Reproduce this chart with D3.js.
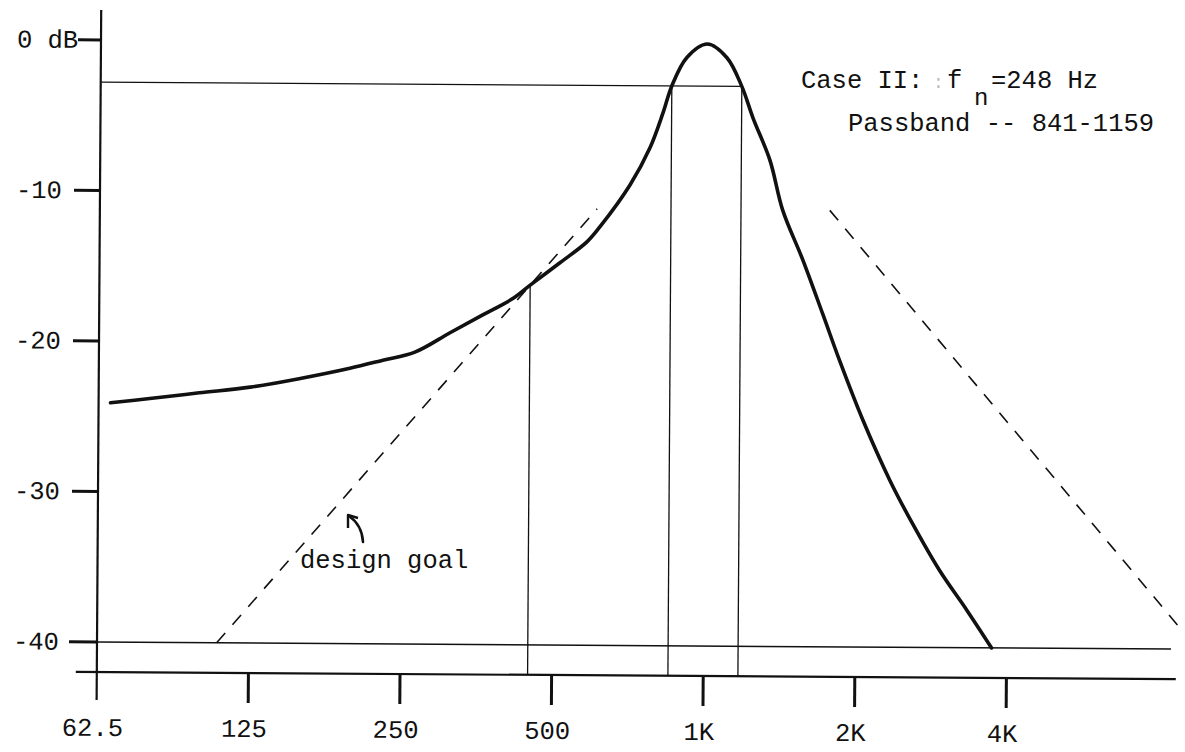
<!DOCTYPE html>
<html>
<head>
<meta charset="utf-8">
<script src="https://cdn.jsdelivr.net/npm/d3@7"></script>
<style>
    body { margin: 0; background: #fff; }
    svg text { font-family: 'Liberation Mono', monospace; font-size: 25.5px; fill: #111; }
</style>
</head>
<body>
<div id="chart"></div>
<script>
// axis ticks
const freqTicks = [62.5, 125, 250, 500, 1000, 2000, 4000];
const freqLabels = ['62.5', '125', '250', '500', '1K', '2K', '4K'];
const dbTicks = [0, -10, -20, -30, -40];
const dbLabels = ['0 dB', '-10', '-20', '-30', '-40'];

// measured response (Hz, dB)
const responseFreq = [66, 79, 99, 125, 157, 197, 229, 265, 311, 361, 414, 448, 513, 580, 615,
    705, 772, 818, 851, 911, 1000, 1094, 1172, 1235, 1336, 1418, 1557, 1709, 1849, 2058, 2333,
    2594, 2940, 3331, 3735];
const responseDb = [-24.1, -23.8, -23.4, -23.0, -22.4, -21.7, -21.15, -20.6, -19.3, -18.1, -17.0,
    -16.1, -14.6, -13.2, -12.2, -9.4, -6.9, -4.6, -2.8, -0.9, 0, -0.9, -2.8, -4.9, -7.7, -11.0,
    -14.3, -17.9, -21.0, -24.9, -28.9, -31.8, -34.9, -37.5, -40];

// design goal slopes (dashed)
const goalLowFreq = [108, 607];
const goalLowDb = [-40, -11.0];
const goalHighFreq = [1759, 8940];
const goalHighDb = [-11.0, -38.8];

// reference lines
const passbandDb = -2.8;
const passbandEdges = [851, 1172];
const crossFreq = 448;
const crossDb = -16.1;
const floorDb = -40;

const width = 1185;
const height = 752;
const baseY = 672;

const x = d3.scaleLog().base(2)
    .domain([62.5, 8000])
    .range([101, 101 + 151.6 * 7]);
const y = d3.scaleLinear()
    .domain([0, -40])
    .range([40, 642]);

const svg = d3.select('#chart').append('svg')
    .attr('width', width)
    .attr('height', height)
    .style('background', '#fff');

// the scanned sheet sits slightly skewed
const g = svg.append('g')
    .attr('transform', 'rotate(0.38, 101, 40)');

const ink = '#111';

// -3 dB line
g.append('line')
    .attr('x1', x(62.5)).attr('x2', x(passbandEdges[1]))
    .attr('y1', y(passbandDb)).attr('y2', y(passbandDb))
    .attr('stroke', ink).attr('stroke-width', 1.2);

// passband edges + crossing line
g.selectAll('.edge')
    .data([[passbandEdges[0], passbandDb], [passbandEdges[1], passbandDb], [crossFreq, crossDb]])
    .enter().append('line')
    .attr('class', 'edge')
    .attr('x1', (d) => x(d[0])).attr('x2', (d) => x(d[0]))
    .attr('y1', (d) => y(d[1])).attr('y2', baseY)
    .attr('stroke', ink).attr('stroke-width', 1.3);

// -40 dB floor
g.append('line')
    .attr('x1', x(62.5) - 28).attr('x2', x(62.5))
    .attr('y1', y(floorDb)).attr('y2', y(floorDb))
    .attr('stroke', ink).attr('stroke-width', 3);
g.append('line')
    .attr('x1', x(62.5)).attr('x2', 1175)
    .attr('y1', y(floorDb)).attr('y2', y(floorDb))
    .attr('stroke', ink).attr('stroke-width', 1.5);

// dashed design goal
const straight = d3.line().x((d) => x(d[0])).y((d) => y(d[1]));
[[goalLowFreq, goalLowDb], [goalHighFreq, goalHighDb]].forEach(([f, v]) => {
    g.append('path')
        .datum(f.map((d, i) => [d, v[i]]))
        .attr('d', straight)
        .attr('fill', 'none')
        .attr('stroke', ink)
        .attr('stroke-width', 1.6)
        .attr('stroke-dasharray', '13,11');
});

// response curve
const curve = d3.line()
    .x((d) => x(d[0]))
    .y((d) => y(d[1]))
    .curve(d3.curveCatmullRom.alpha(0.5));
g.append('path')
    .datum(responseFreq.map((f, i) => [f, responseDb[i]]))
    .attr('d', curve)
    .attr('fill', 'none')
    .attr('stroke', ink)
    .attr('stroke-width', 3.6)
    .attr('stroke-linejoin', 'round')
    .attr('stroke-linecap', 'round');

// y axis
g.append('line')
    .attr('x1', x(62.5)).attr('x2', x(62.5))
    .attr('y1', 10).attr('y2', 700)
    .attr('stroke', ink).attr('stroke-width', 2.2);
g.selectAll('.ytick')
    .data(dbTicks.slice(0, 4))
    .enter().append('line')
    .attr('class', 'ytick')
    .attr('x1', (d, i) => x(62.5) - (i === 0 ? 23 : 26)).attr('x2', x(62.5))
    .attr('y1', (d) => y(d)).attr('y2', (d) => y(d))
    .attr('stroke', ink).attr('stroke-width', 3);
g.selectAll('.ylabel')
    .data(dbTicks)
    .enter().append('text')
    .attr('class', 'ylabel')
    .attr('x', 17)
    .attr('y', (d) => y(d) + 8)
    .text((d, i) => dbLabels[i]);

// x axis
g.append('line')
    .attr('x1', 80).attr('x2', 1180)
    .attr('y1', baseY).attr('y2', baseY)
    .attr('stroke', ink).attr('stroke-width', 2.2);
g.selectAll('.xtick')
    .data(freqTicks.slice(1))
    .enter().append('line')
    .attr('class', 'xtick')
    .attr('x1', (d) => x(d)).attr('x2', (d) => x(d))
    .attr('y1', baseY).attr('y2', baseY + 30)
    .attr('stroke', ink).attr('stroke-width', 3);
g.selectAll('.xlabel')
    .data(freqTicks)
    .enter().append('text')
    .attr('class', 'xlabel')
    .attr('x', (d) => x(d) - 4)
    .attr('y', 736)
    .attr('text-anchor', 'middle')
    .text((d, i) => freqLabels[i]);

// annotations
svg.append('text').attr('x', 801).attr('y', 88).text('Case II:');
svg.append('text').attr('x', 933).attr('y', 88).style('fill', '#bbb').style('font-size', '18px').text(':');
svg.append('text').attr('x', 947).attr('y', 88).text('f');
svg.append('text').attr('x', 974).attr('y', 105).style('font-size', '24px').text('n');
svg.append('text').attr('x', 991).attr('y', 88).text('=248 Hz');
svg.append('text').attr('x', 848).attr('y', 131).text('Passband -- 841-1159');

svg.append('text').attr('x', 300).attr('y', 568).text('design goal');
svg.append('path')
    .attr('d', 'M363,542 Q362,525 349,516')
    .attr('fill', 'none').attr('stroke', ink).attr('stroke-width', 2.6).attr('stroke-linecap', 'round');
svg.append('path')
    .attr('d', 'M348,528 L348,515 L358,518')
    .attr('fill', 'none').attr('stroke', ink).attr('stroke-width', 2.4).attr('stroke-linejoin', 'round');
</script>
</body>
</html>
